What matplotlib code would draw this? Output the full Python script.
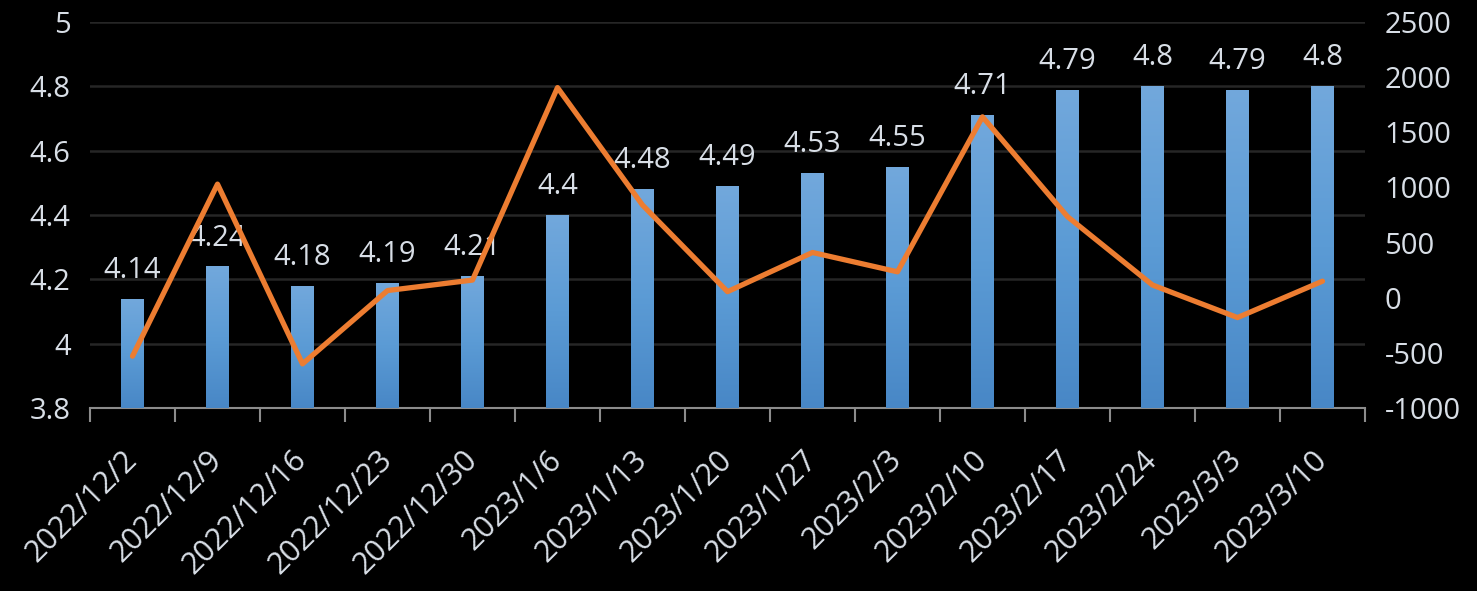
import matplotlib
matplotlib.use("Agg")
import matplotlib.pyplot as plt
import numpy as np
from matplotlib.colors import LinearSegmentedColormap

dates = ["2022/12/2", "2022/12/9", "2022/12/16", "2022/12/23", "2022/12/30",
         "2023/1/6", "2023/1/13", "2023/1/20", "2023/1/27", "2023/2/3",
         "2023/2/10", "2023/2/17", "2023/2/24", "2023/3/3", "2023/3/10"]
bar_values = [4.14, 4.24, 4.18, 4.19, 4.21, 4.4, 4.48, 4.49, 4.53, 4.55,
              4.71, 4.79, 4.8, 4.79, 4.8]
bar_labels = ["4.14", "4.24", "4.18", "4.19", "4.21", "4.4", "4.48", "4.49",
              "4.53", "4.55", "4.71", "4.79", "4.8", "4.79", "4.8"]
line_values = [-530, 1030, -600, 65, 160, 1905, 840, 55, 410, 235,
               1640, 735, 115, -180, 150]

left_ticks = [3.8, 4, 4.2, 4.4, 4.6, 4.8, 5]
left_tick_labels = ["3.8", "4", "4.2", "4.4", "4.6", "4.8", "5"]
right_ticks = [-1000, -500, 0, 500, 1000, 1500, 2000, 2500]

plt.rcParams['font.family'] = ['Open Sans', 'DejaVu Sans']
plt.rcParams['axes.unicode_minus'] = False
txt = '#D8DEE6'

fig = plt.figure(figsize=(14.77, 5.91), dpi=100, facecolor='black')
ax = fig.add_axes([90/1477, 1-408/591, (1365-90)/1477, (408-22)/591])
ax.set_facecolor('black')

x = np.arange(len(dates))
bw = 0.27
bars = ax.bar(x, bar_values, width=bw, color='#5B9BD5', zorder=2)
ax.set_ylim(3.8, 5)
ax.set_xlim(-0.5, len(dates) - 0.5)

cmap = LinearSegmentedColormap.from_list('g', ['#4887C6', '#5B9BD5', '#72A8DC'])
grad = np.linspace(0, 1, 256).reshape(-1, 1)
for b in bars:
    x0, y0 = b.get_x(), b.get_y()
    w, h = b.get_width(), b.get_height()
    im = ax.imshow(grad, cmap=cmap, origin='lower', aspect='auto',
                   extent=[x0, x0 + w, 3.8, y0 + h], zorder=3)
    im.set_clip_path(b)

for xi, v, lab in zip(x, bar_values, bar_labels):
    ax.annotate(lab, (xi, v), xytext=(0, 10), textcoords='offset points',
                ha='center', va='bottom', color=txt, fontsize=21, zorder=6)

ax.set_yticks(left_ticks)
ax.set_yticklabels(left_tick_labels)
ax.grid(axis='y', color='#262626', linewidth=1.8, zorder=0)
ax.set_axisbelow(True)
for s in ['top', 'right', 'left']:
    ax.spines[s].set_visible(False)
ax.spines['bottom'].set_color('#8C8C8C')
ax.spines['bottom'].set_linewidth(1.5)
ax.tick_params(axis='y', length=0, colors=txt, labelsize=21, pad=14)

ax.set_xticks(x)
ax.set_xticklabels(dates, rotation=45, ha='right', va='center', rotation_mode='anchor')
ax.tick_params(axis='x', which='major', length=0, colors=txt, labelsize=22, pad=34)
ax.set_xticks(np.arange(-0.5, len(dates)), minor=True)
ax.tick_params(axis='x', which='minor', length=10, width=1.5, color='#8C8C8C', direction='out')

ax2 = ax.twinx()
ax2.plot(x, line_values, color='#ED7D31', linewidth=3.8, solid_joinstyle='round',
         solid_capstyle='round', zorder=5)
ax2.set_ylim(-1000, 2500)
ax2.set_yticks(right_ticks)
ax2.tick_params(axis='y', length=0, colors=txt, labelsize=21, pad=14)
for s in ax2.spines.values():
    s.set_visible(False)

fig.savefig('out.png', dpi=100, facecolor='black')
